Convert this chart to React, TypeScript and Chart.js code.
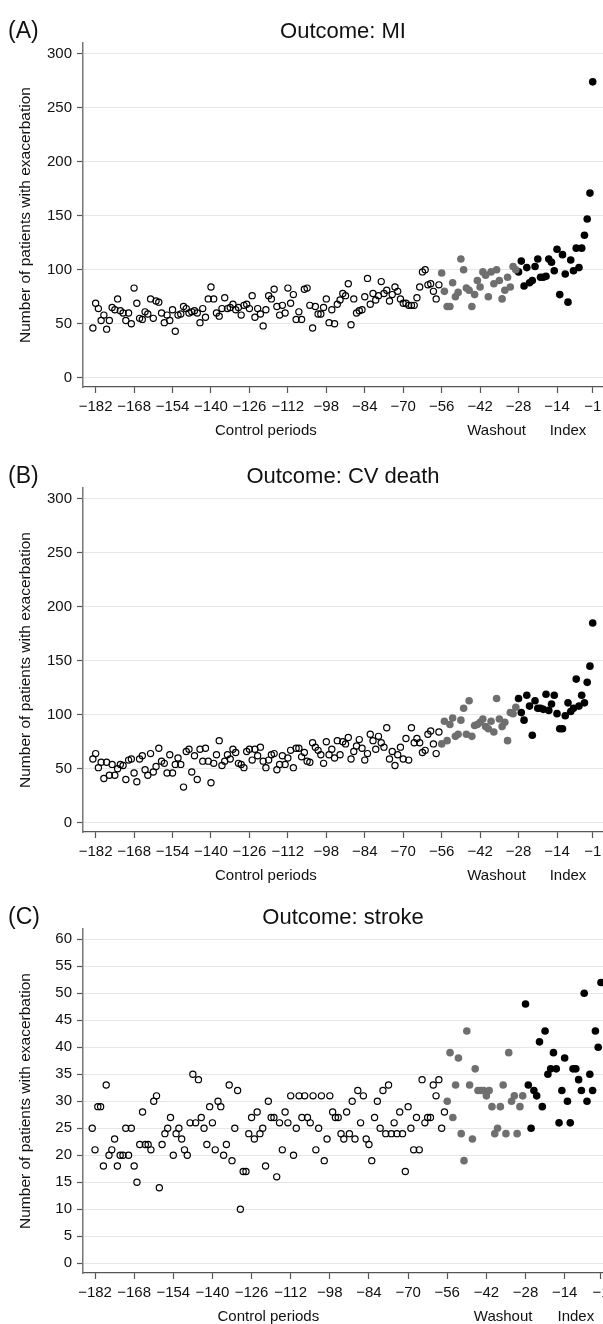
import React, { useEffect, useRef } from "react";
import { Chart, registerables } from "chart.js";

Chart.register(...registerables);

// ---- categories (periods) ----
const controlPeriods = [
  -183, -182, -181, -180, -179, -178, -177, -176, -175, -174,
  -173, -172, -171, -170, -169, -168, -167, -166, -165, -164,
  -163, -162, -161, -160, -159, -158, -157, -156, -155, -154,
  -153, -152, -151, -150, -149, -148, -147, -146, -145, -144,
  -143, -142, -141, -140, -139, -138, -137, -136, -135, -134,
  -133, -132, -131, -130, -129, -128, -127, -126, -125, -124,
  -123, -122, -121, -120, -119, -118, -117, -116, -115, -114,
  -113, -112, -111, -110, -109, -108, -107, -106, -105, -104,
  -103, -102, -101, -100, -99, -98, -97, -96, -95, -94,
  -93, -92, -91, -90, -89, -88, -87, -86, -85, -84,
  -83, -82, -81, -80, -79, -78, -77, -76, -75, -74,
  -73, -72, -71, -70, -69, -68, -67, -66, -65, -64,
  -63, -62, -61, -60, -59, -58, -57,
];
const washoutPeriods = [
  -56, -55, -54, -53, -52, -51, -50, -49, -48, -47,
  -46, -45, -44, -43, -42, -41, -40, -39, -38, -37,
  -36, -35, -34, -33, -32, -31, -30, -29,
];
const indexPeriods = [
  -28, -27, -26, -25, -24, -23, -22, -21, -20, -19,
  -18, -17, -16, -15, -14, -13, -12, -11, -10, -9,
  -8, -7, -6, -5, -4, -3, -2, -1,
];

// ---- Outcome: MI ----
const miControl = [
  46, 69, 64, 53, 58, 45, 53, 65, 63, 73,
  62, 60, 53, 60, 50, 83, 69, 55, 54, 61,
  59, 73, 55, 71, 70, 60, 51, 58, 53, 63,
  43, 58, 59, 66, 64, 60, 61, 62, 60, 51,
  64, 56, 73, 84, 73, 60, 57, 64, 74, 64,
  65, 68, 63, 65, 58, 67, 68, 64, 76, 56,
  64, 59, 48, 63, 76, 73, 82, 66, 58, 67,
  60, 83, 69, 77, 54, 61, 54, 82, 83, 67,
  46, 66, 59, 59, 65, 73, 51, 63, 50, 68,
  72, 78, 76, 87, 49, 73, 60, 62, 63, 75,
  92, 68, 78, 72, 76, 89, 78, 81, 71, 77,
  84, 80, 73, 69, 69, 67, 67, 67, 74, 84,
  98, 100, 86, 87, 80, 73, 86,
];
const miWashout = [
  97, 80, 66, 66, 88, 75, 79, 110, 100, 83,
  81, 66, 77, 90, 84, 98, 95, 75, 98, 87,
  100, 90, 73, 81, 93, 84, 103, 100,
];
const miIndex = [
  98, 108, 85, 102, 88, 90, 103, 110, 93, 93,
  94, 110, 107, 99, 119, 77, 114, 96, 70, 109,
  99, 120, 102, 120, 132, 147, 171, 274,
];

// ---- Outcome: CV death ----
const cvControl = [
  59, 64, 51, 56, 41, 56, 44, 54, 44, 50,
  54, 53, 40, 58, 59, 46, 38, 59, 62, 49,
  44, 64, 47, 52, 69, 57, 55, 46, 63, 46,
  54, 60, 54, 33, 66, 68, 47, 62, 40, 68,
  57, 69, 57, 37, 55, 63, 76, 53, 57, 63,
  59, 68, 65, 55, 54, 51, 66, 68, 58, 68,
  62, 70, 57, 51, 58, 63, 64, 49, 54, 62,
  54, 60, 67, 51, 69, 69, 61, 65, 57, 56,
  74, 70, 67, 63, 55, 75, 63, 68, 60, 76,
  63, 75, 73, 79, 59, 66, 71, 77, 69, 58,
  64, 82, 76, 68, 80, 74, 70, 88, 59, 66,
  53, 63, 70, 59, 78, 58, 88, 74, 78, 74,
  65, 67, 82, 85, 73, 64, 84,
];
const cvWashout = [
  73, 94, 76, 91, 97, 80, 82, 95, 106, 82,
  113, 80, 90, 91, 93, 96, 89, 87, 94, 84,
  115, 96, 89, 93, 76, 102, 101, 107,
];
const cvIndex = [
  115, 102, 95, 118, 108, 81, 113, 106, 106, 105,
  119, 104, 110, 118, 101, 87, 87, 99, 111, 103,
  106, 133, 108, 118, 111, 130, 145, 185,
];

// ---- Outcome: stroke ----
const strokeControl = [
  25, 21, 29, 29, 18, 33, 20, 21, 23, 18,
  20, 20, 25, 20, 25, 18, 15, 22, 28, 22,
  22, 21, 30, 31, 14, 22, 24, 25, 27, 20,
  24, 25, 23, 21, 20, 26, 35, 26, 34, 27,
  25, 22, 29, 26, 21, 30, 29, 20, 22, 33,
  19, 25, 32, 10, 17, 17, 24, 27, 23, 28,
  24, 25, 18, 30, 27, 27, 16, 26, 21, 28,
  26, 31, 20, 25, 31, 27, 31, 27, 26, 31,
  21, 25, 31, 19, 23, 31, 28, 27, 27, 24,
  23, 28, 24, 30, 23, 32, 26, 31, 23, 22,
  19, 27, 30, 25, 32, 24, 33, 24, 26, 24,
  28, 24, 17, 29, 25, 21, 27, 21, 34, 26,
  27, 27, 33, 31, 34, 25, 28,
];
const strokeWashout = [
  30, 39, 27, 33, 38, 24, 19, 43, 33, 23,
  36, 32, 32, 32, 31, 32, 29, 24, 25, 29,
  33, 24, 39, 30, 31, 24, 29, 31,
];
const strokeIndex = [
  48, 33, 25, 32, 31, 41, 29, 43, 35, 36,
  39, 36, 26, 32, 38, 30, 26, 36, 36, 34,
  32, 50, 30, 35, 32, 43, 40, 52,
];

// ---- tick labels ----
const xTickValues = [-182, -168, -154, -140, -126, -112, -98, -84, -70, -56, -42, -28, -14, -1];
const yTicksCount = [0, 50, 100, 150, 200, 250, 300];
const yTicksStroke = [0, 5, 10, 15, 20, 25, 30, 35, 40, 45, 50, 55, 60];

const groupLabels = ["Control periods", "Washout", "Index"];
const groupLabelAt = [-120, -36, -10];
const yAxisTitle = "Number of patients with exacerbation";

const FONT = '"Liberation Sans", Arial, Helvetica, sans-serif';
const TEXT = "#111111";

type Panel = {
  letter: string;
  title: string;
  control: number[];
  washout: number[];
  index: number[];
  yTicks: number[];
  yMin: number;
  yMax: number;
  xMin: number;
  xMax: number;
  top: number;
  height: number;
};

const panels: Panel[] = [
  {
    letter: "(A)", title: "Outcome: MI",
    control: miControl, washout: miWashout, index: miIndex,
    yTicks: yTicksCount, yMin: -8.6, yMax: 310,
    xMin: -186.6, xMax: 2.75, top: 0, height: 445,
  },
  {
    letter: "(B)", title: "Outcome: CV death",
    control: cvControl, washout: cvWashout, index: cvIndex,
    yTicks: yTicksCount, yMin: -8.6, yMax: 310,
    xMin: -186.6, xMax: 2.75, top: 445, height: 441,
  },
  {
    letter: "(C)", title: "Outcome: stroke",
    control: strokeControl, washout: strokeWashout, index: strokeIndex,
    yTicks: yTicksStroke, yMin: -1.8, yMax: 61.9,
    xMin: -186.3, xMax: -0.28, top: 886, height: 438,
  },
];

const fmt = (v: number | string) => {
  const n = Number(v);
  return n < 0 ? "\u2212" + Math.abs(n) : String(n);
};

const toPoints = (xs: number[], ys: number[]) => xs.map((x, i) => ({ x, y: ys[i] }));

function PanelChart({ p }: { p: Panel }) {
  const ref = useRef<HTMLCanvasElement | null>(null);
  useEffect(() => {
    if (!ref.current) return;
    const annot = {
      id: "annot",
      afterDraw(chart: any) {
        const ctx = chart.ctx as CanvasRenderingContext2D;
        const ca = chart.chartArea;
        const xs = chart.scales.x;
        ctx.save();
        ctx.fillStyle = TEXT;
        ctx.textBaseline = "middle";
        ctx.font = `23px ${FONT}`;
        ctx.textAlign = "left";
        ctx.fillText(p.letter, 8, 32);
        ctx.font = `22px ${FONT}`;
        ctx.textAlign = "center";
        ctx.fillText(p.title, (ca.left + ca.right) / 2, 32);
        ctx.font = `15px ${FONT}`;
        groupLabels.forEach((t, i) => {
          ctx.fillText(t, xs.getPixelForValue(groupLabelAt[i]), 431);
        });
        ctx.translate(26, (ca.top + ca.bottom) / 2);
        ctx.rotate(-Math.PI / 2);
        ctx.font = `15.5px ${FONT}`;
        ctx.fillText(yAxisTitle, 0, 0);
        ctx.restore();
      },
    };
    const chart = new Chart(ref.current, {
      type: "scatter",
      data: {
        datasets: [
          {
            data: toPoints(controlPeriods, p.control),
            pointRadius: 3.1,
            pointBorderWidth: 1.2,
            pointBorderColor: "#000000",
            pointBackgroundColor: "rgba(0,0,0,0)",
          },
          {
            data: toPoints(washoutPeriods, p.washout),
            pointRadius: 3.8,
            pointBorderWidth: 0,
            pointBorderColor: "#6f6f6f",
            pointBackgroundColor: "#6f6f6f",
          },
          {
            data: toPoints(indexPeriods, p.index),
            pointRadius: 3.8,
            pointBorderWidth: 0,
            pointBorderColor: "#000000",
            pointBackgroundColor: "#000000",
          },
        ],
      },
      options: {
        animation: false,
        responsive: false,
        events: [],
        layout: { padding: { top: 43, left: 0, right: 0, bottom: 0 }, autoPadding: false },
        plugins: { legend: { display: false }, tooltip: { enabled: false }, title: { display: false } },
        scales: {
          x: {
            type: "linear",
            bounds: "data",
            min: p.xMin,
            max: p.xMax,
            afterBuildTicks: (s: any) => {
              s.ticks = xTickValues.map((v) => ({ value: v }));
            },
            afterFit: (s: any) => {
              s.height = p.height - 387;
              s.paddingLeft = 0;
              s.paddingRight = 0;
            },
            ticks: {
              autoSkip: false,
              maxRotation: 0,
              minRotation: 0,
              padding: 5,
              color: TEXT,
              font: { family: FONT, size: 15 },
              callback: fmt,
            },
            grid: {
              drawOnChartArea: false,
              drawTicks: true,
              tickLength: 6,
              tickColor: "#555555",
              tickWidth: 1.2,
            },
            border: { display: true, color: "#555555", width: 1.2 },
          },
          y: {
            type: "linear",
            bounds: "data",
            min: p.yMin,
            max: p.yMax,
            afterBuildTicks: (s: any) => {
              s.ticks = p.yTicks.map((v) => ({ value: v }));
            },
            afterFit: (s: any) => {
              s.width = 83;
              s.paddingTop = 0;
              s.paddingBottom = 0;
            },
            ticks: {
              autoSkip: false,
              padding: 5,
              color: TEXT,
              font: { family: FONT, size: 15 },
              callback: fmt,
            },
            grid: {
              color: "#e6e6e6",
              lineWidth: 1,
              drawTicks: true,
              tickLength: 6,
              tickColor: "#555555",
              tickWidth: 1.2,
            },
            border: { display: true, color: "#777777", width: 1.5 },
          },
        },
      },
      plugins: [annot],
    } as any);
    return () => chart.destroy();
  }, [p]);
  return (
    <canvas
      ref={ref}
      width={603}
      height={p.height}
      style={{ position: "absolute", left: 0, top: p.top, width: 603, height: p.height, display: "block" }}
    />
  );
}

export default function App() {
  return (
    <div style={{ position: "absolute", left: 0, top: 0, width: 603, height: 1324, background: "#ffffff", overflow: "hidden" }}>
      {panels.map((p) => (
        <PanelChart key={p.letter} p={p} />
      ))}
    </div>
  );
}
